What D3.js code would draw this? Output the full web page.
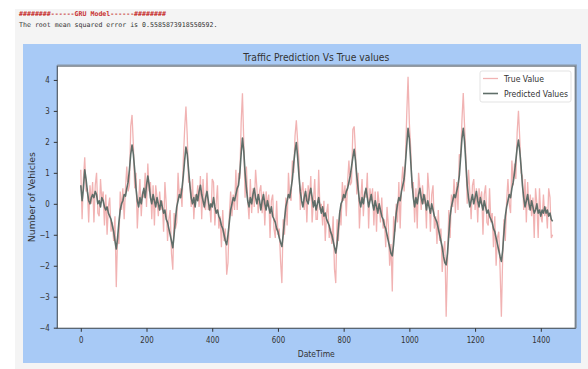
<!DOCTYPE html>
<html>
<head>
<meta charset="utf-8">
<script src="https://cdn.jsdelivr.net/npm/d3@7"></script>
<style>
  html, body { margin: 0; padding: 0; background: #fff; overflow: hidden; }
</style>
</head>
<body>
<div id="chart"></div>
<script>
const X_STEP = 4

const trueValues = [
  1.1,-0.5,0.8,1.5,0.4,0.5,-0.6,0.6,0.0,0.7,-0.6,0.6,1.0,-0.3,-0.4,0.8,0.1,0.4,-0.7,0.3,-1.0,-0.1,0.2,-0.9,-0.6,-1.2,-0.4,
  -2.69,
  -1.0,-1.3,0.4,-0.2,0.5,-0.5,0.5,1.2,0.4,0.6,2.5,2.87,1.9,0.5,1.0,-0.8,0.1,0.8,-0.4,0.4,0.2,1.0,-0.1,1.3,0.4,0.7,-0.5,0.6,-0.7,0.6,0.2,-0.4,0.4,-0.2,0.1,-0.9,0.7,0.0,-1.2,-0.5,-0.2,-1.6,
  -2.13,
  -0.3,-0.8,-0.6,1.0,0.2,0.5,-0.1,1.4,2.4,3.14,2.2,0.7,0.7,-0.1,0.8,-0.5,0.3,0.1,0.6,-0.1,0.9,-0.5,0.8,-0.1,-0.2,1.0,-0.2,0.0,-0.6,0.8,0.7,-0.7,0.0,0.6,-0.8,-0.4,-1.4,-0.2,-1.2,-0.8,
  -2.29,
  -1.9,-0.4,0.4,-0.4,0.3,-0.2,1.1,-0.2,1.0,0.8,2.6,3.57,2.0,0.2,1.2,0.1,-0.5,0.8,-0.3,0.5,-0.1,1.1,0.5,-0.3,0.4,0.6,-0.3,0.4,-0.7,0.4,-0.1,0.3,-1.1,0.1,0.3,-0.8,-1.1,0.1,-1.0,-0.8,-1.85,
  -2.56,
  -0.5,-1.0,0.2,-0.7,1.0,0.2,0.1,1.4,1.0,2.2,2.7,2.0,1.4,-0.2,0.4,0.7,-0.2,0.5,-0.6,0.6,0.1,0.9,-0.6,0.1,0.8,-0.5,-0.5,1.1,-0.2,0.0,-0.7,0.1,-1.2,-0.3,0.0,-1.1,-0.8,-1.3,-0.4,-2.1,
  -2.56,
  -0.5,-1.2,-0.2,-0.7,0.7,0.1,0.6,-0.4,0.7,1.4,0.6,0.7,2.4,2.5,1.7,0.3,1.0,-0.8,0.1,0.8,-0.4,0.4,0.2,1.0,-0.8,0.5,0.1,0.5,-0.7,0.4,-0.9,0.4,0.0,-0.6,0.2,-0.8,-0.5,-1.4,-0.1,-0.7,-2.0,-1.3,
  -2.83,
  -0.4,-0.9,0.0,-0.6,0.7,-0.8,0.6,1.2,0.4,1.4,2.9,4.1,2.6,1.8,0.5,0.7,-0.6,0.5,-0.8,1.0,0.5,-0.2,0.6,0.0,0.3,-0.8,1.0,0.4,-0.9,0.3,0.6,-0.8,-0.4,-1.3,-0.2,-1.2,-0.8,-2.2,-1.5,-1.2,
  -3.65,
  -1.9,-0.2,-1.1,0.3,-0.1,0.8,-0.3,0.7,-0.2,1.6,1.5,2.7,3.58,2.5,1.5,0.0,1.1,0.4,-0.5,0.6,0.8,-0.2,0.5,-0.6,0.5,0.0,0.4,-1.0,0.3,0.6,-0.6,-0.7,0.5,-0.6,-0.3,-1.4,-0.4,-2.0,-1.1,-0.9,-2.1,
  -3.65,
  -1.7,-0.5,-1.2,0.1,0.8,0.0,-0.3,1.4,0.6,1.3,0.8,2.3,3.0,2.1,1.0,0.9,-0.2,0.8,-0.6,0.7,-0.2,0.3,-0.4,0.2,-1.1,0.5,0.0,-1.1,0.5,-0.4,-0.6,0.3,-0.4,-0.1,-0.8,0.5,0.2,-1.1,-1.0
]

const predValues = [
  0.6,0.1,0.5,1.1,0.8,0.4,0.1,0.0,0.2,0.3,0.2,0.4,0.3,0.0,0.1,-0.1,0.2,0.1,-0.1,-0.2,-0.1,-0.3,-0.4,-0.5,-0.7,-0.9,-1.2,
  -1.46,
  -1.1,-0.6,-0.2,0.0,0.1,0.3,0.25,0.5,0.7,1.1,1.6,1.9,1.6,1.1,0.5,0.1,-0.1,0.2,0.0,0.3,0.5,0.2,0.6,0.9,0.6,0.2,0.0,0.3,0.1,-0.1,0.2,0.0,-0.2,0.1,-0.1,-0.3,-0.2,-0.5,-0.6,-0.8,-1.0,-1.2,
  -1.42,
  -1.0,-0.5,-0.1,0.1,0.3,0.2,0.5,0.9,1.4,1.83,1.6,1.1,0.6,0.2,0.0,0.2,-0.1,0.3,0.1,0.4,0.6,0.3,0.1,-0.1,0.2,0.4,0.1,-0.2,0.0,-0.1,0.2,-0.1,-0.3,-0.2,-0.4,-0.5,-0.7,-0.8,-1.0,-1.2,
  -1.32,
  -1.0,-0.6,-0.2,0.0,0.2,0.1,0.3,0.5,0.6,1.0,1.6,2.12,1.7,1.0,0.5,0.1,-0.1,0.2,0.0,0.3,0.5,0.2,0.0,0.3,0.1,-0.2,0.1,0.3,0.0,-0.2,0.1,-0.1,-0.3,-0.1,-0.4,-0.5,-0.6,-0.8,-0.9,-1.1,-1.25,
  -1.38,
  -1.0,-0.5,-0.1,0.1,0.3,0.2,0.5,0.8,1.3,1.7,1.98,1.5,0.9,0.4,0.1,-0.1,0.2,0.4,0.1,0.0,0.3,0.5,0.2,-0.1,0.1,-0.2,0.0,0.2,-0.1,-0.3,-0.1,-0.4,-0.3,-0.5,-0.6,-0.7,-0.9,-1.0,-1.2,-1.4,
  -1.59,
  -1.3,-0.8,-0.3,0.0,0.1,0.3,0.2,0.4,0.5,0.7,0.9,1.2,1.5,1.76,1.4,0.9,0.5,0.1,-0.1,0.2,0.0,0.3,0.5,0.2,-0.1,0.1,0.3,0.0,-0.2,0.1,-0.1,-0.3,0.0,-0.2,-0.4,-0.5,-0.7,-0.8,-1.0,-1.2,-1.4,-1.6,
  -1.68,
  -1.3,-0.8,-0.3,0.0,0.2,0.1,0.4,0.6,0.8,1.3,1.9,2.44,2.1,1.4,0.7,0.2,-0.1,0.2,0.0,0.3,0.5,0.2,0.0,0.3,0.1,-0.2,0.1,-0.1,-0.3,0.0,-0.2,-0.4,-0.5,-0.6,-0.8,-1.0,-1.2,-1.4,-1.7,-1.9,
  -1.97,
  -1.6,-1.0,-0.4,-0.1,0.1,0.3,0.2,0.4,0.6,0.9,1.5,2.1,2.44,2.0,1.3,0.6,0.2,-0.1,0.1,0.3,0.0,0.2,0.4,0.1,-0.1,0.2,0.0,-0.2,0.1,-0.1,-0.3,-0.2,-0.4,-0.5,-0.6,-0.8,-0.9,-1.1,-1.3,-1.5,-1.7,
  -1.86,
  -1.5,-0.9,-0.4,-0.1,0.1,0.3,0.2,0.5,0.7,1.0,1.4,1.8,2.06,1.7,1.2,0.6,0.2,-0.1,0.1,0.3,0.0,-0.2,0.1,-0.1,-0.3,-0.2,0.0,-0.3,-0.2,-0.4,-0.2,-0.3,-0.1,-0.3,-0.2,-0.4,-0.3,-0.5,-0.57
]

const xTicks = [0, 200, 400, 600, 800, 1000, 1200, 1400]
const yTicks = [-4, -3, -2, -1, 0, 1, 2, 3, 4]
const seriesNames = ["True Value", "Predicted Values"]
const headerLines = [
  "########------GRU Model------########",
  "The root mean squared error is 0.5585873918550592."
]

const W = 588
const H = 369

const svg = d3.select("#chart").append("svg")
  .attr("width", W)
  .attr("height", H)
  .style("display", "block")

// notebook output cell
svg.append("rect").attr("width", W).attr("height", H).attr("fill", "#fff")
svg.append("rect")
  .attr("x", 15).attr("y", 9)
  .attr("width", W - 15).attr("height", H - 9)
  .attr("fill", "#f4f4f4")

svg.selectAll("text.hdr")
  .data(headerLines)
  .join("text")
  .attr("class", "hdr")
  .attr("x", 19)
  .attr("y", (d, i) => 15.5 + i * 11.5)
  .attr("font-family", "DejaVu Sans Mono")
  .attr("font-size", "6.6px")
  .attr("font-weight", (d, i) => i === 0 ? "bold" : "normal")
  .attr("fill", (d, i) => i === 0 ? "#c83232" : "#333")
  .text(d => d)

// figure
svg.append("rect")
  .attr("x", 23).attr("y", 44)
  .attr("width", 558).attr("height", 319)
  .attr("fill", "#a8caf6")

const plot = { left: 57.3, top: 66, width: 518, height: 262.3 }

const x = d3.scaleLinear().domain([-71.5, 1505]).range([0, plot.width])
const y = d3.scaleLinear().domain([-4.02, 4.45]).range([plot.height, 0])

const g = svg.append("g").attr("transform", `translate(${plot.left},${plot.top})`)

g.append("rect")
  .attr("width", plot.width).attr("height", plot.height)
  .attr("fill", "#fff")

svg.append("defs").append("clipPath").attr("id", "clip")
  .append("rect").attr("width", plot.width).attr("height", plot.height)

const line = d3.line()
  .x((d, i) => x(i * X_STEP))
  .y(d => y(d))

const lines = g.append("g").attr("clip-path", "url(#clip)")

lines.append("path")
  .datum(trueValues)
  .attr("fill", "none")
  .attr("stroke", "#f1b3b3")
  .attr("stroke-width", 1.3)
  .attr("d", line)

lines.append("path")
  .datum(predValues)
  .attr("fill", "none")
  .attr("stroke", "#5f6e69")
  .attr("stroke-width", 1.6)
  .attr("stroke-linejoin", "round")
  .attr("d", line)

// frame
g.append("rect")
  .attr("width", plot.width).attr("height", plot.height)
  .attr("fill", "none")
  .attr("stroke", "#505a64")
  .attr("stroke-width", 1.2)
g.append("path")
  .attr("d", `M0,-0.8H${plot.width + 0.8}V${plot.height}`)
  .attr("fill", "none")
  .attr("stroke", "#8a97a6")
  .attr("stroke-width", 1.4)

const fmt = d => d < 0 ? "\u2212" + Math.abs(d) : String(d)

const xAxis = g.append("g")
  .attr("transform", `translate(0,${plot.height})`)
  .call(d3.axisBottom(x).tickValues(xTicks).tickFormat(fmt).tickSize(3.5).tickPadding(5.5))
const yAxis = g.append("g")
  .call(d3.axisLeft(y).tickValues(yTicks).tickFormat(fmt).tickSize(3.5).tickPadding(4))

for (const ax of [xAxis, yAxis]) {
  ax.select(".domain").remove()
  ax.selectAll("line").attr("stroke", "#333")
  ax.selectAll("text")
    .attr("font-family", "DejaVu Sans")
    .attr("font-size", "8px")
    .attr("fill", "#333")
}

// narrow the glyphs a bit, like the squeezed picture
function squeeze(sel, k) {
  sel.each(function () {
    const len = this.getComputedTextLength()
    d3.select(this).attr("textLength", len * k).attr("lengthAdjust", "spacingAndGlyphs")
  })
}
squeeze(xAxis.selectAll("text"), 0.88)
squeeze(yAxis.selectAll("text"), 0.88)

// title and axis labels
svg.append("text")
  .attr("x", plot.left + plot.width / 2)
  .attr("y", 60.5)
  .attr("text-anchor", "middle")
  .attr("font-family", "DejaVu Sans")
  .attr("font-size", "11px")
  .attr("fill", "#333")
  .attr("textLength", 146)
  .attr("lengthAdjust", "spacingAndGlyphs")
  .text("Traffic Prediction Vs True values")

svg.append("text")
  .attr("x", plot.left + plot.width / 2)
  .attr("y", 357)
  .attr("text-anchor", "middle")
  .attr("font-family", "DejaVu Sans")
  .attr("font-size", "8.5px")
  .attr("fill", "#333")
  .attr("textLength", 37)
  .attr("lengthAdjust", "spacingAndGlyphs")
  .text("DateTime")

svg.append("text")
  .attr("transform", `translate(35,${plot.top + plot.height / 2}) rotate(-90)`)
  .attr("text-anchor", "middle")
  .attr("font-family", "DejaVu Sans")
  .attr("font-size", "8.5px")
  .attr("fill", "#333")
  .attr("textLength", 90)
  .attr("lengthAdjust", "spacingAndGlyphs")
  .text("Number of Vehicles")

// legend
const legend = svg.append("g").attr("transform", "translate(480,71)")
legend.append("rect")
  .attr("width", 91).attr("height", 31).attr("rx", 2)
  .attr("fill", "#fff")
  .attr("stroke", "#dcdcdc")
  .attr("stroke-width", 0.8)

const legendColors = ["#f1b3b3", "#5f6e69"]
const legendWidths = [1.3, 1.6]
const legendTextLen = [40, 64]
const item = legend.selectAll("g.item")
  .data(seriesNames)
  .join("g")
  .attr("class", "item")
  .attr("transform", (d, i) => `translate(0,${7.5 + i * 15})`)
item.append("line")
  .attr("x1", 3).attr("x2", 18)
  .attr("stroke", (d, i) => legendColors[i])
  .attr("stroke-width", (d, i) => legendWidths[i])
item.append("text")
  .attr("x", 24)
  .attr("y", 3)
  .attr("font-family", "DejaVu Sans")
  .attr("font-size", "8.5px")
  .attr("fill", "#333")
  .attr("textLength", (d, i) => legendTextLen[i])
  .attr("lengthAdjust", "spacingAndGlyphs")
  .text(d => d)
</script>
</body>
</html>
